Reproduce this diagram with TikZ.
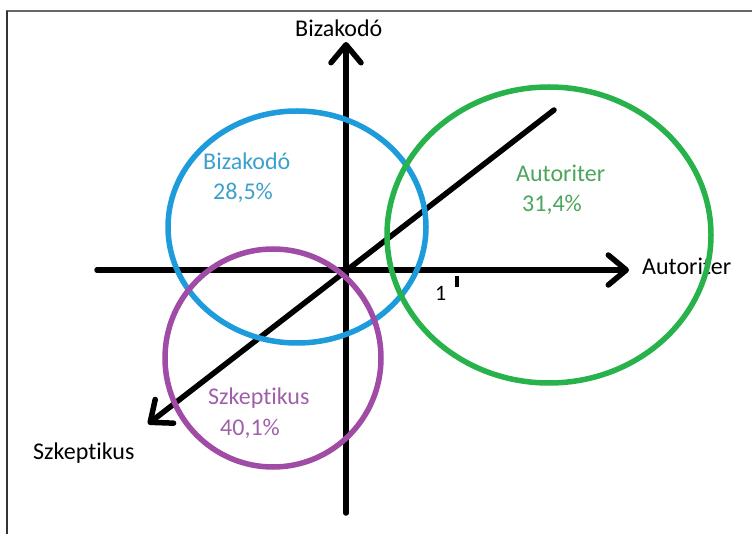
\documentclass[tikz,border=0pt]{standalone}
\usepackage{fontspec}
\setmainfont{Carlito}[Ligatures=NoCommon]
\usetikzlibrary{arrows.meta,shapes.geometric}

\definecolor{bluering}{RGB}{30,155,218}
\definecolor{bluetext}{RGB}{60,160,205}
\definecolor{greenring}{RGB}{40,178,75}
\definecolor{greentext}{RGB}{75,165,90}
\definecolor{purplering}{RGB}{160,75,165}
\definecolor{purpletext}{RGB}{160,95,170}

\tikzset{
  axis/.style={line width=5.5pt, line cap=round,
    -{Straight Barb[length=18pt,width=30pt,line cap=round,line join=round]}},
  ring/.style={draw, ellipse, line width=5.5pt, inner sep=0pt},
  lbl/.style={anchor=base west, inner sep=0pt, font=\fontsize{24}{28}\selectfont}
}

\begin{document}
\begin{tikzpicture}[x=1pt, y=-1pt]
  \useasboundingbox (0,0) rectangle (752,534);
  % frame
  \draw [line width=1.8pt, gray!80!black] (6,11) -- (752,11);
  \draw [line width=1.8pt, black!80] (7,11) -- (7,534);

  % axes
  \coordinate (o) at (346,270);
  \coordinate (ybot) at (346,513);
  \coordinate (ytop) at (346,42);
  \coordinate (xl) at (97,270);
  \coordinate (xr) at (629,270);
  \coordinate (zb) at (554,110);
  \coordinate (zf) at (148,424);
  \draw [axis] (ybot) -- (ytop);
  \draw [axis] (xl) -- (xr);
  \draw [axis] (zb) -- (zf);
  \coordinate (t1) at (457,276);
  \coordinate (t2) at (457,287);
  \draw [line width=4.5pt] (t1) -- (t2);
  \node [lbl, font=\fontsize{22}{26}\selectfont] (one) at (435,301) {1};

  % axis names
  \node [lbl] (ny) at (295,37) {Bizakodó};
  \node [lbl] (nx) at (642,275) {Autoriter};
  \node [lbl] (nz) at (33,459) {Szkeptikus};

  % groups
  \node [ring, bluering, minimum width=258pt, minimum height=232pt] (biz) at (297,227) {};
  \node [ring, purplering, minimum width=216pt, minimum height=218pt] (szk) at (273,358) {};
  \node [ring, greenring, minimum width=324pt, minimum height=296pt] (aut) at (549,235) {};

  \node [lbl, bluetext] (biza) at (203,170) {Bizakodó};
  \node [lbl, bluetext] (bizb) at (213,200) {28,5\%};
  \node [lbl, greentext] (auta) at (516,182) {Autoriter};
  \node [lbl, greentext] (autb) at (522,212) {31,4\%};
  \node [lbl, purpletext] (szka) at (208,404) {Szkeptikus};
  \node [lbl, purpletext] (szkb) at (220,435) {40,1\%};
\end{tikzpicture}
\end{document}
